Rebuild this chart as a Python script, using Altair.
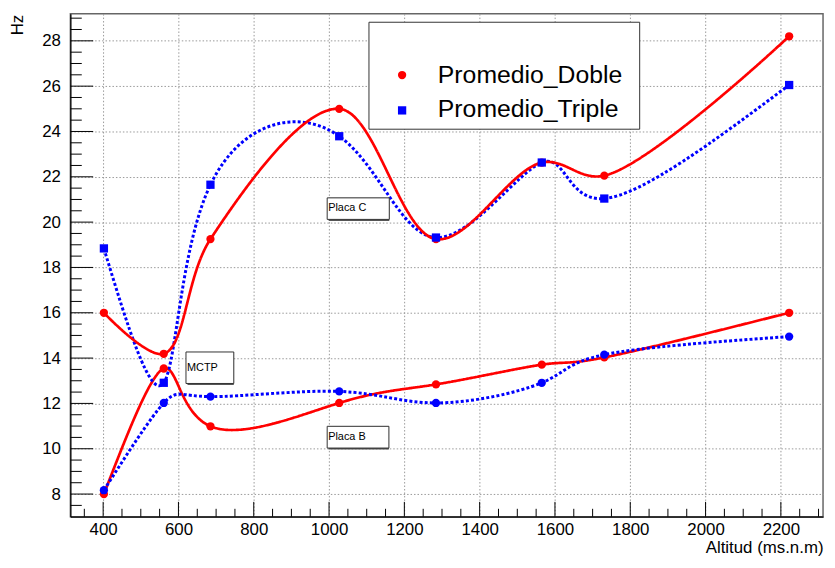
import altair as alt
import pandas as pd

# ---- data ----
altitud = [402, 561, 685, 1027, 1284, 1565, 1731, 2222]
doble_placa_c = [16.0, 14.19, 19.25, 25.0, 19.25, 22.63, 22.05, 28.2]
doble_placa_b = [8.0, 13.54, 10.99, 12.02, 12.84, 13.71, 14.03, 16.0]
triple_placa_c = [18.84, 12.91, 21.65, 23.79, 19.32, 22.63, 21.04, 26.05]
triple_placa_b = [8.17, 12.02, 12.30, 12.53, 12.02, 12.91, 14.15, 14.95]

series = ["Promedio_Doble", "Promedio_Triple"]
x_ticks = list(range(400, 2201, 200))
x_minor = [v for v in range(350, 2301, 50) if v % 200 != 0]
y_ticks = list(range(8, 29, 2))
y_minor = [v / 2 for v in range(15, 59) if v % 4 != 0]

notes = ["MCTP", "Placa B", "Placa C"]

W, H = 760, 508
X_DOM = [313, 2312]
Y_DOM = [7.0, 29.2]

rows = []
for name, serie, vals, marker in [
    ("dc", series[0], doble_placa_c, "circle"),
    ("db", series[0], doble_placa_b, "circle"),
    ("tc", series[1], triple_placa_c, "square"),
    ("tb", series[1], triple_placa_b, "circle"),
]:
    for a, v in zip(altitud, vals):
        rows.append({"alt": a, "hz": v, "serie": serie, "curva": name, "marker": marker})
df = pd.DataFrame(rows)

FONT = "Liberation Sans"
xs = alt.Scale(domain=X_DOM, nice=False, zero=False)
ys = alt.Scale(domain=Y_DOM, nice=False, zero=False)
xaxis = alt.Axis(values=x_ticks, format="d", title="Altitud (ms.n.m)", grid=True, ticks=False,
                 labelPadding=5, labelFontSize=17, labelFont=FONT, labelColor="black",
                 titleFont=FONT, titleFontSize=17, titleFontWeight="normal", titleColor="black",
                 titleAnchor="end", titleAlign="right", titleX=W, titleY=31, titleBaseline="middle",
                 domainColor="black", domainWidth=1.2)
yaxis = alt.Axis(values=y_ticks, format="d", title="Hz", grid=True, ticks=False,
                 labelPadding=10, labelFontSize=17, labelFont=FONT, labelColor="black",
                 titleFont=FONT, titleFontSize=17, titleFontWeight="normal", titleColor="black",
                 titleAngle=270, titleX=-53, titleY=11, titleAlign="center", titleBaseline="middle",
                 domainColor="black", domainWidth=1.2)

def X(f):
    return alt.X(f, type="quantitative", scale=xs, axis=xaxis)

def Y(f):
    return alt.Y(f, type="quantitative", scale=ys, axis=yaxis)

color = alt.Color("serie:N", scale=alt.Scale(domain=series, range=["#ff0000", "#0000ff"]), legend=None)
dash = alt.StrokeDash("serie:N", scale=alt.Scale(domain=series, range=[[1, 0], [3, 2.2]]), legend=None)
width_enc = alt.StrokeWidth("serie:N", scale=alt.Scale(domain=series, range=[2.7, 3]), legend=None)

lines_nat = alt.Chart(df).transform_filter(alt.datum.curva != "dc").mark_line(interpolate="natural", clip=True).encode(
    x=X("alt"), y=Y("hz"), color=color, detail="curva:N", strokeDash=dash, strokeWidth=width_enc)
lines_cr = alt.Chart(df).transform_filter(alt.datum.curva == "dc").mark_line(interpolate="catmull-rom", clip=True).encode(
    x=X("alt"), y=Y("hz"), color=color, detail="curva:N", strokeDash=dash, strokeWidth=width_enc)
points = alt.Chart(df).mark_point(filled=True, opacity=1, size=70).encode(
    x=X("alt"), y=Y("hz"), color=color,
    shape=alt.Shape("marker:N", scale=alt.Scale(domain=["circle", "square"], range=["circle", "square"]), legend=None),
)

# ticks drawn inside the frame (ROOT style)
xt = pd.DataFrame({"v": x_ticks})
xm = pd.DataFrame({"v": x_minor})
yt = pd.DataFrame({"v": y_ticks})
ym = pd.DataFrame({"v": y_minor})
tick_x = alt.Chart(xt).mark_rule(color="black", strokeWidth=1).encode(x=X("v"), y=alt.value(H), y2=alt.value(H - 15))
tick_xm = alt.Chart(xm).mark_rule(color="black", strokeWidth=1).encode(x=X("v"), y=alt.value(H), y2=alt.value(H - 8))
tick_y = alt.Chart(yt).mark_rule(color="black", strokeWidth=1).encode(y=Y("v"), x=alt.value(0), x2=alt.value(23))
tick_ym = alt.Chart(ym).mark_rule(color="black", strokeWidth=1).encode(y=Y("v"), x=alt.value(0), x2=alt.value(11.5))

# annotation boxes
boxes = pd.DataFrame({
    "label": notes,
    "x1": [620, 995, 995], "x2": [747, 1159, 1160],
    "y1": [12.88, 10.03, 20.12], "y2": [14.27, 10.99, 21.07],
    "ty": [13.57, 10.5, 20.6],
})
shadow = alt.Chart(boxes).mark_rect(fill="#555", xOffset=1.5, yOffset=1.5).encode(
    x=X("x1"), x2="x2", y=Y("y1"), y2="y2")
box = alt.Chart(boxes).mark_rect(fill="white", stroke="#333", strokeWidth=1).encode(
    x=X("x1"), x2="x2", y=Y("y1"), y2="y2")
box_txt = alt.Chart(boxes).mark_text(align="left", baseline="middle", font=FONT, fontSize=11, dx=1, color="black").encode(
    x=X("x1"), y=Y("ty"), text="label:N")

# legend
leg_box = pd.DataFrame({"x1": [1106], "x2": [1825], "y1": [24.1], "y2": [28.82]})
leg = pd.DataFrame({"serie": series, "marker": ["circle", "square"],
                    "mx": [1194, 1194], "my": [26.49, 24.93],
                    "tx": [1289, 1289], "ty": [26.14, 24.62]})
legend_rect = alt.Chart(leg_box).mark_rect(fill="white", stroke="#333", strokeWidth=1).encode(
    x=X("x1"), x2="x2", y=Y("y1"), y2="y2")
legend_pts = alt.Chart(leg).mark_point(filled=True, opacity=1, size=70).encode(
    x=X("mx"), y=Y("my"), color=color,
    shape=alt.Shape("marker:N", scale=alt.Scale(domain=["circle", "square"], range=["circle", "square"]), legend=None))
legend_txt = alt.Chart(leg).mark_text(align="left", baseline="alphabetic", font=FONT, fontSize=25, color="black").encode(
    x=X("tx"), y=Y("ty"), text="serie:N")

chart = alt.layer(
    tick_xm, tick_x, tick_ym, tick_y,
    lines_nat, lines_cr, points,
    shadow, box, box_txt,
    legend_rect, legend_pts, legend_txt,
).properties(
    width=W, height=H,
    autosize=alt.AutoSizeParams(type="none"),
    padding={"left": 63, "top": 3, "right": 4, "bottom": 40},
    background="white",
).configure_view(
    stroke="#666", strokeWidth=1.5
).configure_axis(
    gridColor="#999", gridDash=[1.5, 2], gridWidth=1
)

chart.save("out.html", embed_options={"renderer": "svg", "actions": False})
